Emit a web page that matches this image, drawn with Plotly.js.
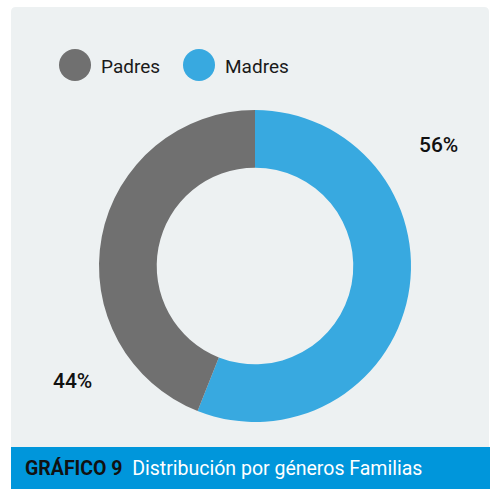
<!DOCTYPE html>
<html>
<head>
<meta charset="utf-8">
<script src="https://cdn.plot.ly/plotly-3.0.1.min.js"></script>
<style>html,body{margin:0;padding:0;background:#fff;}#chart{width:490px;height:489px;}</style>
</head>
<body>
<div id="chart"></div>
<script>
// Legend order: Padres, Madres
var labels = ["Padres", "Madres"];
var values = [44, 56];
var colors = ["#707070", "#38a9e0"];
var titleBold = "GRÁFICO 9";
var titleText = "Distribución por géneros Familias";

var W = 490, H = 489;
function px(x){ return x / W; }
function py(y){ return (H - y) / H; }

// ring drawn clockwise from 12 o'clock starting with Madres
var order = [1, 0];
var trace = {
  type: "pie",
  labels: order.map(function(i){ return labels[i]; }),
  values: order.map(function(i){ return values[i]; }),
  hole: 0.63,
  sort: false,
  direction: "clockwise",
  marker: {colors: order.map(function(i){ return colors[i]; }), line: {width: 0}},
  textinfo: "none",
  hoverinfo: "label+percent",
  showlegend: false,
  domain: {x: [px(99), px(411)], y: [py(422), py(110)]}
};

var total = values.reduce(function(a,b){return a+b;}, 0);
var pctPos = [[72, 381], [438, 145]];
var annotations = [];
var shapes = [];

// panel background
shapes.push({type: "path", xref: "paper", yref: "paper", layer: "below",
  path: "M " + px(11) + "," + py(12) + " Q " + px(11) + "," + py(7) + " " + px(16) + "," + py(7) +
        " L " + px(484) + "," + py(7) + " Q " + px(489) + "," + py(7) + " " + px(489) + "," + py(12) +
        " L " + px(489) + "," + py(489) + " L " + px(11) + "," + py(489) + " Z",
  fillcolor: "#edf1f2", line: {width: 0}});
// banner
shapes.push({type: "rect", xref: "paper", yref: "paper", layer: "below",
  x0: px(11), x1: px(490), y0: py(489), y1: py(447),
  fillcolor: "#0096db", line: {width: 0}});

// legend
var legX = [75, 199];
labels.forEach(function(l, i){
  shapes.push({type: "circle", xref: "paper", yref: "paper",
    x0: px(legX[i] - 16), x1: px(legX[i] + 16), y0: py(81), y1: py(49),
    fillcolor: colors[i], line: {width: 0}});
  annotations.push({xref: "paper", yref: "paper", x: px(legX[i] + 24), y: py(66),
    xanchor: "left", yanchor: "middle", showarrow: false, text: l,
    font: {family: "Roboto", size: 19, color: "#1a1a1a"}});
  annotations.push({xref: "paper", yref: "paper", x: px(pctPos[i][0]), y: py(pctPos[i][1]),
    xanchor: "center", yanchor: "middle", showarrow: false,
    text: Math.round(values[i] / total * 100) + "%",
    font: {family: "Roboto", size: 21, color: "#111", weight: 500}});
});

annotations.push({xref: "paper", yref: "paper", x: px(23), y: py(468),
  xanchor: "left", yanchor: "middle", showarrow: false,
  text: "<b>" + titleBold + "</b>  <span style=\"color:#ffffff\">" + titleText + "</span>",
  font: {family: "Roboto", size: 19.5, color: "#111111"}});

var layout = {
  width: W, height: H,
  margin: {l: 0, r: 0, t: 0, b: 0},
  paper_bgcolor: "#ffffff",
  plot_bgcolor: "rgba(0,0,0,0)",
  showlegend: false,
  shapes: shapes,
  annotations: annotations
};

Plotly.newPlot("chart", [trace], layout, {displayModeBar: false, staticPlot: true});
</script>
</body>
</html>
